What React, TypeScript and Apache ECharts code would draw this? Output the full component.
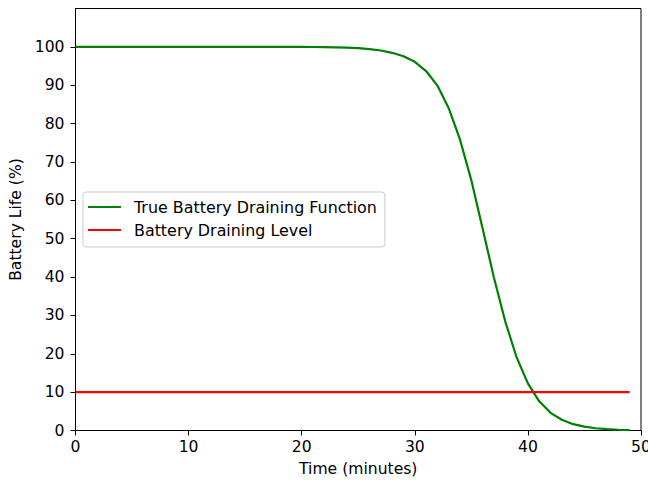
import React, { useEffect, useRef } from "react";
import * as echarts from "echarts";

const times = [
  0, 1, 2, 3, 4, 5, 6, 7, 8, 9, 10, 11, 12, 13, 14, 15, 16, 17, 18, 19, 20, 21, 22, 23, 24,
  25, 26, 27, 28, 29, 30, 31, 32, 33, 34, 35, 36, 37, 38, 39, 40, 41, 42, 43, 44, 45, 46, 47, 48, 49,
];
const batteryTrue = [
  100, 100, 100, 100, 100, 100, 100, 100, 100, 100, 100, 100, 100, 100, 100, 100, 100, 100, 100, 99.99,
  99.99, 99.97, 99.94, 99.89, 99.8, 99.67, 99.42, 99.05, 98.45, 97.55, 96.1, 93.7, 89.9, 84.0, 75.8,
  65.2, 52.6, 39.8, 28.4, 19.1, 12.3, 7.6, 4.6, 2.8, 1.65, 1.0, 0.58, 0.34, 0.2, 0.12,
];
const drainLevel = [
  10, 10, 10, 10, 10, 10, 10, 10, 10, 10, 10, 10, 10, 10, 10, 10, 10, 10, 10, 10, 10, 10, 10, 10, 10,
  10, 10, 10, 10, 10, 10, 10, 10, 10, 10, 10, 10, 10, 10, 10, 10, 10, 10, 10, 10, 10, 10, 10, 10, 10,
];
const seriesNames = ["True Battery Draining Function", "Battery Draining Level"];
const xTitle = "Time (minutes)";
const yTitle = "Battery Life (%)";

const FONT = "DejaVu Sans";
const FS = 15.6;

export default function App() {
  const ref = useRef<HTMLDivElement>(null);
  useEffect(() => {
    document.body.style.margin = "0";
    const chart = echarts.init(ref.current!, null, { renderer: "svg" });
    const axisCommon = {
      axisLine: { show: true, lineStyle: { color: "#000", width: 1 } },
      axisTick: { show: true, inside: false, length: 5, lineStyle: { color: "#000", width: 1 } },
      splitLine: { show: false },
      nameLocation: "middle" as const,
      nameTextStyle: { fontFamily: FONT, fontSize: FS, color: "#000" },
    };
    chart.setOption({
      animation: false,
      backgroundColor: "#fff",
      grid: {
        left: 75.5,
        right: 7,
        top: 8.5,
        bottom: 51.5,
        show: true,
        borderColor: "#000",
        borderWidth: 1,
        containLabel: false,
        outerBoundsMode: "none",
      },
      xAxis: {
        type: "value",
        min: 0,
        max: 50,
        interval: 10,
        name: xTitle,
        nameGap: 30,
        ...axisCommon,
        axisLabel: { fontFamily: FONT, fontSize: FS, color: "#000", margin: 8 },
      },
      yAxis: {
        type: "value",
        min: 0,
        max: 110,
        interval: 10,
        name: yTitle,
        nameGap: 47,
        ...axisCommon,
        axisLabel: {
          fontFamily: FONT,
          fontSize: FS,
          color: "#000",
          margin: 11,
          showMaxLabel: false,
        },
      },
      legend: {
        show: true,
        orient: "vertical",
        left: 83,
        top: 192,
        data: seriesNames,
        icon: "rect",
        itemWidth: 33,
        itemHeight: 2,
        itemGap: 5,
        padding: [6, 8, 8, 5],
        borderColor: "#cccccc",
        borderWidth: 1,
        borderRadius: 3,
        backgroundColor: "rgba(255,255,255,0.8)",
        textStyle: {
          fontFamily: FONT,
          fontSize: 15.9,
          lineHeight: 18,
          color: "#000",
          padding: [0, 0, 0, 8],
        },
      },
      series: [
        {
          name: seriesNames[0],
          type: "line",
          data: times.map((t, i) => [t, batteryTrue[i]]),
          showSymbol: false,
          symbol: "none",
          lineStyle: { color: "#008000", width: 2.2 },
          itemStyle: { color: "#008000" },
          z: 3,
        },
        {
          name: seriesNames[1],
          type: "line",
          data: times.map((t, i) => [t, drainLevel[i]]),
          showSymbol: false,
          symbol: "none",
          lineStyle: { color: "#ff0000", width: 2.2 },
          itemStyle: { color: "#ff0000" },
          z: 3,
        },
      ],
    });
    return () => chart.dispose();
  }, []);
  return <div ref={ref} style={{ width: 648, height: 482 }} />;
}
